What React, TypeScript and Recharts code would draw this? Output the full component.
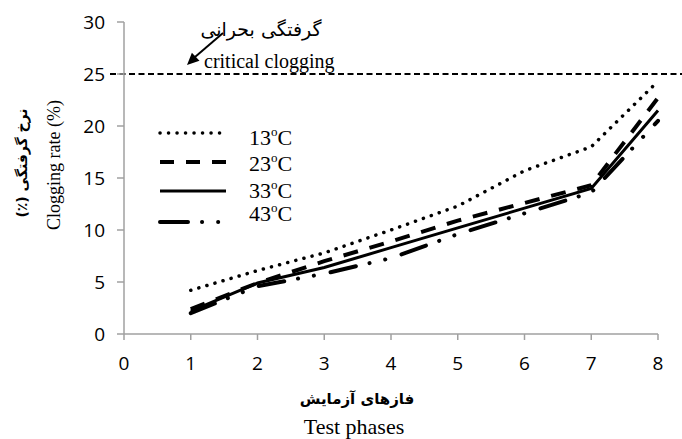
import { LineChart, Line, XAxis, YAxis, ReferenceLine, Legend } from "recharts"

const phases = [1, 2, 3, 4, 5, 6, 7, 8]
const t13 = [4.2, 6.1, 7.8, 10.0, 12.3, 15.7, 18.0, 24.3]
const t23 = [2.4, 4.9, 7.0, 8.9, 10.9, 12.6, 14.3, 22.7]
const t33 = [2.2, 4.9, 6.4, 8.3, 10.2, 12.1, 14.0, 21.5]
const t43 = [2.0, 4.6, 5.8, 7.3, 9.6, 11.6, 13.6, 20.5]
const xTicks = [0, 1, 2, 3, 4, 5, 6, 7, 8]
const yTicks = [0, 5, 10, 15, 20, 25, 30]
const criticalValue = 25

const data = phases.map((p, i) => ({ phase: p, t13: t13[i], t23: t23[i], t33: t33[i], t43: t43[i] }))

const series = [
  { key: "t13", label: "13", width: 3.5, dash: "0.1 8.3", cap: "round" as const, legendDash: "0.1 8.4" },
  { key: "t23", label: "23", width: 4, dash: "15 12", cap: "butt" as const, legendDash: "14 12" },
  { key: "t33", label: "33", width: 3, dash: undefined, cap: "butt" as const, legendDash: undefined },
  { key: "t43", label: "43", width: 4, dash: "26 14 0.1 16 0.1 17", cap: "round" as const, legendDash: "28 14 0.1 16 0.1 17" },
]

const axisColor = "#a0a0a0"
const tickFont = { fontFamily: "Open Sans", fontSize: 19, fill: "#000" }
const serif = "Liberation Serif, Times New Roman, serif"
const persian = "DejaVu Sans, sans-serif"

const LegendBox = () => (
  <svg width={160} height={120}>
    {series.map((s, i) => {
      const ly = [18, 47, 76, 107][i]
      const ty = [22, 48, 75, 98][i]
      return (
        <g key={s.key}>
          <line x1={12} x2={78} y1={ly} y2={ly} stroke="#000" strokeWidth={s.width}
            strokeDasharray={s.legendDash} strokeLinecap={s.cap} />
          <text x={101} y={ty + 8} fontFamily={serif} fontSize={22} fill="#000">
            {s.label}
            <tspan fontSize={13} dy={-9}>o</tspan>
            <tspan dy={9}>C</tspan>
          </text>
        </g>
      )
    })}
  </svg>
)

const CriticalLine = (props: any) => (
  <line x1={props.x1 - 14} x2={props.x2 + 30} y1={props.y1} y2={props.y2}
    stroke="#000" strokeWidth={2} strokeDasharray="6 3.5" />
)

export default function App() {
  return (
    <div style={{ position: "absolute", left: 0, top: 0, width: 682, height: 439, background: "#fff" }}>
      <LineChart width={682} height={439} data={data} margin={{ top: 22, right: 24, left: 64, bottom: 75 }}>
        <XAxis dataKey="phase" type="number" domain={[0, 8]} ticks={xTicks} interval={0}
          stroke={axisColor} strokeWidth={1.5} tickSize={6} tickMargin={17} tick={tickFont}
          tickLine={{ stroke: axisColor, strokeWidth: 1.5 }} height={30} />
        <YAxis type="number" domain={[0, 30]} ticks={yTicks} interval={0} width={60}
          stroke={axisColor} strokeWidth={1.5} tickSize={7} tickMargin={12} tick={tickFont}
          tickLine={{ stroke: axisColor, strokeWidth: 1.5 }} />
        <ReferenceLine y={criticalValue} ifOverflow="visible" shape={CriticalLine} />
        {series.map((s) => (
          <Line key={s.key} dataKey={s.key} type="linear" stroke="#000" strokeWidth={s.width}
            strokeDasharray={s.dash} strokeLinecap={s.cap} dot={false} activeDot={false}
            isAnimationActive={false} />
        ))}
        <Legend layout="vertical" align="center" verticalAlign="middle" content={LegendBox}
          wrapperStyle={{ position: "absolute", left: 148, top: 115, width: 160, height: 120 }} />
      </LineChart>
      <svg width={682} height={439} style={{ position: "absolute", left: 0, top: 0, pointerEvents: "none" }}>
        <text x={261} y={36} textAnchor="middle" fontFamily={persian} fontSize={19} direction="rtl">گرفتگی بحرانی</text>
        <text x={204} y={68} fontFamily={serif} fontSize={20}>critical clogging</text>
        <line x1={223} y1={33} x2={195} y2={57} stroke="#000" strokeWidth={2} />
        <polygon points="187,65 199.5,60.8 191.9,52.8" fill="#000" />
        <text transform="translate(60,165) rotate(-90)" textAnchor="middle" fontFamily={serif} fontSize={18}>Clogging rate (%)</text>
        <text transform="translate(27,163) rotate(-90)" textAnchor="middle" fontFamily={persian} fontSize={14} fontWeight="bold" direction="rtl">نرخ گرفتگی (٪)</text>
        <text x={357} y={404} textAnchor="middle" fontFamily={persian} fontSize={15} fontWeight="bold" direction="rtl">فازهای آزمایش</text>
        <text x={354} y={434} textAnchor="middle" fontFamily={serif} fontSize={22}>Test phases</text>
      </svg>
    </div>
  )
}
